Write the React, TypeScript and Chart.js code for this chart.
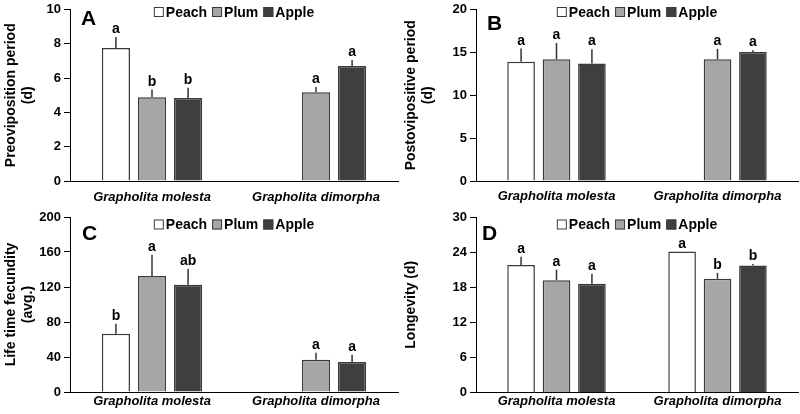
import React, { useEffect, useRef } from 'react';
import { Chart, registerables } from 'chart.js';
Chart.register(...registerables);

const FONT = 'Arial, "Liberation Sans", Helvetica, sans-serif';
Chart.defaults.font.family = FONT;

const categories = ['Grapholita molesta', 'Grapholita dimorpha'];
const seriesNames = ['Peach', 'Plum', 'Apple'];
const seriesColors = ['#ffffff', '#a6a6a6', '#3f3f3f'];

// Panel A: Preoviposition period (d)
const peachA = [7.75, null];
const plumA = [4.88, 5.18];
const appleA = [4.84, 6.7];
const peachAErr = [0.65, null];
const plumAErr = [0.45, 0.3];
const appleAErr = [0.6, 0.35];
const peachALetters = ['a', ''];
const plumALetters = ['b', 'a'];
const appleALetters = ['b', 'a'];

// Panel B: Postovipositive period (d)
const peachB = [13.9, null];
const plumB = [14.2, 14.2];
const appleB = [13.7, 15.05];
const peachBErr = [1.55, null];
const plumBErr = [1.9, 1.2];
const appleBErr = [1.65, 0.2];
const peachBLetters = ['a', ''];
const plumBLetters = ['a', 'a'];
const appleBLetters = ['a', 'a'];

// Panel C: Life time fecundity (avg.)
const peachC = [66.7, null];
const plumC = [132.6, 37];
const appleC = [122.7, 34.3];
const peachCErr = [11.3, null];
const plumCErr = [24.4, 8];
const appleCErr = [18.3, 8.4];
const peachCLetters = ['b', ''];
const plumCLetters = ['a', 'a'];
const appleCLetters = ['ab', 'a'];

// Panel D: Longevity (d)
const peachD = [21.8, 24.1];
const plumD = [19.2, 19.45];
const appleD = [18.6, 21.7];
const peachDErr = [1.4, 0];
const plumDErr = [1.8, 1.0];
const appleDErr = [1.7, 0.25];
const peachDLetters = ['a', 'a'];
const plumDLetters = ['a', 'b'];
const appleDLetters = ['a', 'b'];

type PanelCfg = {
  letter: string;
  yTitle: string | string[];
  yMax: number;
  step: number;
  values: (number | null)[][];
  errs: (number | null)[][];
  letters: string[][];
  x: number;
  y: number;
  left: number;
  top: number;
  bottom: number;
  xPad: number;
  letterX: number;
  letterY: number;
  legendY: number;
};

const panels: PanelCfg[] = [
  {
    letter: 'A', yTitle: ['Preoviposition period', '(d)'], yMax: 10, step: 2,
    values: [peachA, plumA, appleA], errs: [peachAErr, plumAErr, appleAErr],
    letters: [peachALetters, plumALetters, appleALetters],
    x: 0, y: 0, left: 70, top: 6, bottom: 181, xPad: 9, letterX: 81, letterY: 25, legendY: 12,
  },
  {
    letter: 'B', yTitle: ['Postovipositive period', '(d)'], yMax: 20, step: 5,
    values: [peachB, plumB, appleB], errs: [peachBErr, plumBErr, appleBErr],
    letters: [peachBLetters, plumBLetters, appleBLetters],
    x: 400, y: 0, left: 76, top: 6, bottom: 181, xPad: 8, letterX: 87, letterY: 30, legendY: 12,
  },
  {
    letter: 'C', yTitle: ['Life time fecundity', '(avg.)'], yMax: 200, step: 40,
    values: [peachC, plumC, appleC], errs: [peachCErr, plumCErr, appleCErr],
    letters: [peachCLetters, plumCLetters, appleCLetters],
    x: 0, y: 207, left: 70, top: 10, bottom: 185, xPad: 2, letterX: 82, letterY: 33, legendY: 17.5,
  },
  {
    letter: 'D', yTitle: 'Longevity (d)', yMax: 30, step: 6,
    values: [peachD, plumD, appleD], errs: [peachDErr, plumDErr, appleDErr],
    letters: [peachDLetters, plumDLetters, appleDLetters],
    x: 400, y: 207, left: 76, top: 10, bottom: 185.5, xPad: 2, letterX: 82, letterY: 33, legendY: 17.5,
  },
];

const W = 400;
const H = 207;

function Panel({ cfg }: { cfg: PanelCfg }) {
  const ref = useRef<HTMLCanvasElement | null>(null);
  useEffect(() => {
    if (!ref.current) return;
    const overlay = {
      id: 'overlay' + cfg.letter,
      afterDatasetsDraw(chart: any) {
        const ctx = chart.ctx as CanvasRenderingContext2D;
        const yScale = chart.scales.y;
        ctx.save();
        // error bars and letters
        cfg.values.forEach((vals, di) => {
          const meta = chart.getDatasetMeta(di);
          vals.forEach((v, i) => {
            if (v === null || v === undefined) return;
            const bar = meta.data[i];
            if (!bar) return;
            const e = cfg.errs[di][i] || 0;
            const yTop = yScale.getPixelForValue(v);
            const yErr = yScale.getPixelForValue(v + e);
            if (e > 0) {
              ctx.strokeStyle = '#333333';
              ctx.lineWidth = 1.5;
              ctx.beginPath();
              ctx.moveTo(bar.x, yTop);
              ctx.lineTo(bar.x, yErr);
              ctx.stroke();
            }
            const lt = cfg.letters[di][i];
            if (lt) {
              ctx.fillStyle = '#000';
              ctx.font = 'bold 14px ' + FONT;
              ctx.textAlign = 'center';
              ctx.textBaseline = 'alphabetic';
              ctx.fillText(lt, bar.x, yErr - 4);
            }
          });
        });
        // panel letter
        ctx.fillStyle = '#000';
        ctx.font = 'bold 21px ' + FONT;
        ctx.textAlign = 'left';
        ctx.textBaseline = 'alphabetic';
        ctx.fillText(cfg.letter, cfg.letterX, cfg.letterY);
        // legend
        const area = chart.chartArea;
        ctx.font = 'bold 14px ' + FONT;
        const box = 10;
        const gapBox = 2;
        const gapItem = 5;
        const widths = seriesNames.map((n) => ctx.measureText(n).width);
        const total = widths.reduce((a, w) => a + box + gapBox + w, 0) + gapItem * (seriesNames.length - 1);
        let lx = (area.left + area.right) / 2 - total / 2;
        const ly = cfg.legendY;
        seriesNames.forEach((n, k) => {
          ctx.fillStyle = seriesColors[k];
          ctx.fillRect(lx, ly - box / 2, box, box);
          ctx.strokeStyle = '#3a3a3a';
          ctx.lineWidth = 1;
          ctx.strokeRect(lx + 0.5, ly - box / 2 + 0.5, box - 1, box - 1);
          ctx.fillStyle = '#000';
          ctx.textAlign = 'left';
          ctx.textBaseline = 'middle';
          ctx.fillText(n, lx + box + gapBox, ly + 1);
          lx += box + gapBox + widths[k] + gapItem;
        });
        ctx.restore();
      },
    };
    const chart = new Chart(ref.current, {
      type: 'bar',
      data: {
        labels: categories,
        datasets: seriesNames.map((name, k) => ({
          label: name,
          data: cfg.values[k],
          backgroundColor: seriesColors[k],
          borderColor: '#3a3a3a',
          borderWidth: 1.5,
          categoryPercentage: 0.66,
          barPercentage: 0.78,
        })),
      },
      options: {
        animation: false,
        responsive: false,
        devicePixelRatio: 1,
        layout: { padding: { top: cfg.top, right: 2, left: 0, bottom: 0 } },
        plugins: { legend: { display: false }, tooltip: { enabled: false } },
        scales: {
          x: {
            grid: { display: false, drawTicks: false },
            border: { display: true, color: '#000', width: 1 },
            ticks: {
              color: '#000',
              padding: cfg.xPad,
              font: { size: 13, weight: 'bold', style: 'italic', family: FONT, lineHeight: 1.1 },
            },
            afterFit: (s: any) => { s.height = H - cfg.bottom; },
          },
          y: {
            min: 0,
            max: cfg.yMax,
            grid: { display: true, drawOnChartArea: false, drawTicks: true, tickLength: 6, color: '#000' },
            border: { display: true, color: '#000', width: 1 },
            ticks: {
              stepSize: cfg.step,
              color: '#000',
              padding: 3,
              font: { size: 13, weight: 'bold', family: FONT, lineHeight: 1 },
            },
            title: {
              display: true,
              text: cfg.yTitle,
              color: '#000',
              padding: { top: 3, bottom: 0 },
              font: { size: 14, weight: 'bold', family: FONT, lineHeight: 1.2 },
            },
            afterFit: (s: any) => { s.width = cfg.left; },
          },
        },
      },
      plugins: [overlay],
    } as any);
    return () => chart.destroy();
  }, [cfg]);
  return (
    <div style={{ position: 'absolute', left: cfg.x, top: cfg.y, width: W, height: H }}>
      <canvas ref={ref} width={W} height={H} style={{ width: W, height: H, display: 'block' }} />
    </div>
  );
}

export default function App() {
  return (
    <div style={{ position: 'absolute', left: 0, top: 0, width: 800, height: 414, background: '#fff' }}>
      {panels.map((p) => (
        <Panel key={p.letter} cfg={p} />
      ))}
    </div>
  );
}
